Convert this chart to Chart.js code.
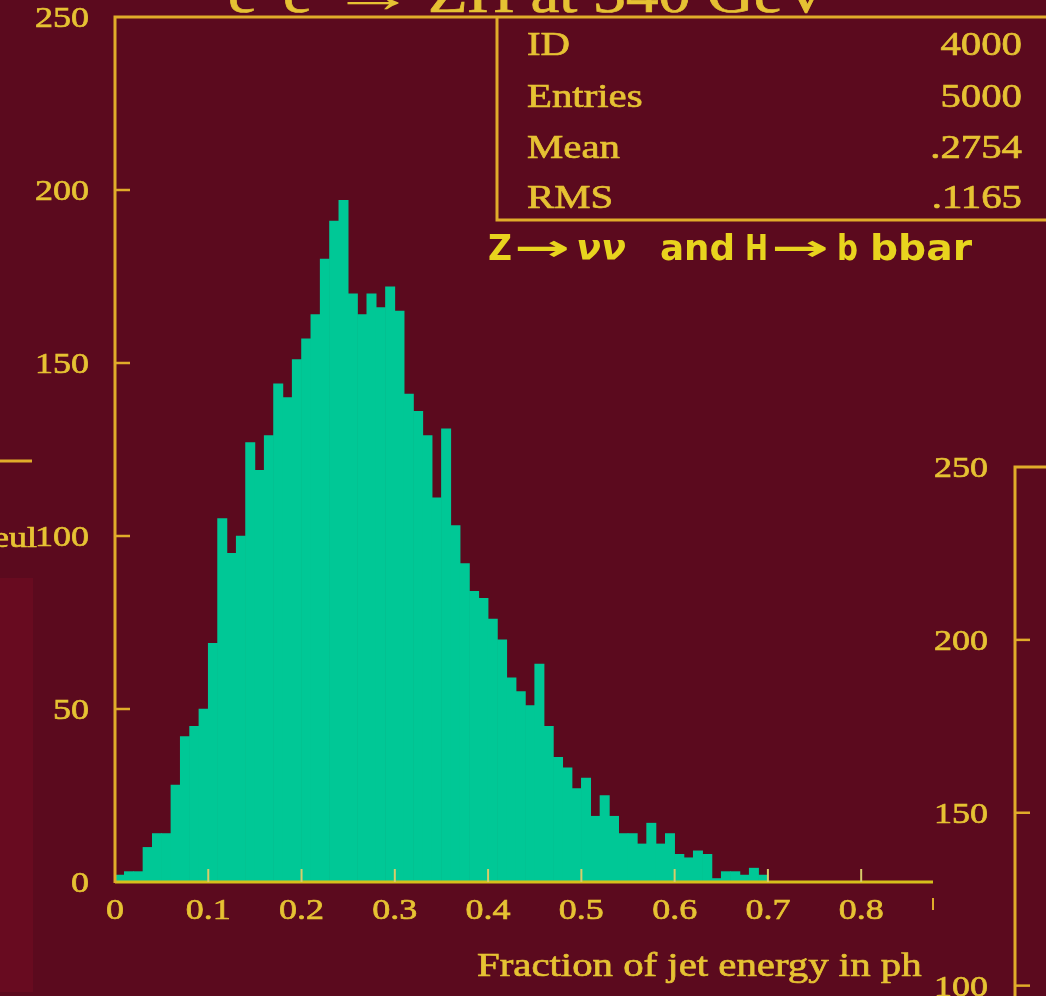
<!DOCTYPE html>
<html>
<head>
  <title>Fraction of jet energy in photons</title>
  <script src="https://cdn.jsdelivr.net/npm/chart.js"></script>
  <style>
    body { margin: 0; background: #5b0a1e; overflow: hidden; }
    #wrap { position: relative; width: 1046px; height: 996px; }
    canvas { position: absolute; left: 0; top: 0; }
  </style>
</head>
<body>
<div id="wrap">
  <canvas id="jetChart" width="1046" height="996"></canvas>
  <canvas id="nextChart" width="1046" height="996"></canvas>
</div>
<script>
// histogram 4000 : e+e- -> ZH, Z -> nu nu, H -> b bbar
const binWidth = 0.01;
const counts = [2, 3, 3, 10, 14, 14, 28, 42, 45, 50,
                69, 105, 95, 100, 127, 119, 129, 144, 140, 151,
                157, 164, 180, 191, 197, 170, 164, 170, 166, 172,
                165, 141, 136, 129, 111, 131, 103, 92, 84, 82,
                76, 70, 59, 55, 51, 63, 45, 36, 33, 27,
                30, 19, 25, 19, 14, 14, 11, 17, 11, 14,
                8, 7, 9, 8, 1, 3, 3, 2, 4, 2];
const xTicks = [0, 0.1, 0.2, 0.3, 0.4, 0.5, 0.6, 0.7, 0.8];
const yTicks = [0, 50, 100, 150, 200, 250];
const nextTicks = [100, 150, 200, 250];
const statNames = ['ID', 'Entries', 'Mean', 'RMS'];
const statValues = ['4000', '5000', '.2754', '.1165'];

const GOLD = '#e0ac2a';
const TEXT = '#e6c233';
const SERIF = '"Liberation Serif"';
const STRETCH = 1.2;

// serif text, a bit wider and heavier than the font draws it
function wideText(ctx, txt, x, y, size, align, k) {
  ctx.save();
  ctx.font = size + 'px ' + SERIF;
  ctx.fillStyle = TEXT;
  ctx.strokeStyle = TEXT;
  ctx.lineWidth = 0.7;
  ctx.textAlign = align || 'left';
  ctx.textBaseline = 'alphabetic';
  ctx.translate(x, y);
  ctx.scale(k || STRETCH, 1);
  ctx.fillText(txt, 0, 0);
  ctx.strokeText(txt, 0, 0);
  ctx.restore();
}

// text squeezed/stretched to a given width
function fitText(ctx, txt, x, y, font, width, color) {
  ctx.save();
  ctx.font = font;
  ctx.fillStyle = color;
  ctx.textAlign = 'left';
  ctx.textBaseline = 'alphabetic';
  const w = ctx.measureText(txt).width;
  ctx.translate(x, y);
  ctx.scale(width / w, 1);
  ctx.fillText(txt, 0, 0);
  ctx.restore();
}

function line(ctx, x1, y1, x2, y2, color, w) {
  ctx.strokeStyle = color;
  ctx.lineWidth = w;
  ctx.beginPath();
  ctx.moveTo(x1, y1);
  ctx.lineTo(x2, y2);
  ctx.stroke();
}

const histFrame = {
  id: 'histFrame',
  beforeDraw(chart) {
    const ctx = chart.ctx;
    // edge of the panel on the left
    ctx.fillStyle = '#680b20';
    ctx.fillRect(0, 578, 33, 414);
    line(ctx, 0, 461, 32, 461, GOLD, 3);
    wideText(ctx, 'eul', 37, 547, 30, 'right');
  },
  afterDraw(chart) {
    const { ctx, chartArea: a, scales: { x, y } } = chart;
    ctx.save();

    // axes and frame
    line(ctx, a.left, a.bottom, a.right, a.bottom, '#d6c01c', 3);
    ctx.strokeStyle = GOLD;
    ctx.lineWidth = 3;
    ctx.beginPath();
    ctx.moveTo(a.left, a.bottom + 1);
    ctx.lineTo(a.left, a.top);
    ctx.lineTo(1050, a.top);
    ctx.stroke();
    line(ctx, a.right, a.bottom + 16, a.right, a.bottom + 28, GOLD, 2);

    // inward tick marks
    yTicks.forEach(v => {
      const py = y.getPixelForValue(v);
      if (v > 0 && v < 250) line(ctx, a.left, py, a.left + 15, py, GOLD, 2.5);
      wideText(ctx, String(v), 89, py + 10, 30, 'right');
    });
    xTicks.forEach(v => {
      const px = x.getPixelForValue(v);
      if (v > 0) line(ctx, px, a.bottom, px, a.bottom - 13, '#d8cc6a', 2);
      wideText(ctx, String(v), px, a.bottom + 37, 30, 'center');
    });

    wideText(ctx, 'Fraction of jet energy in ph', 477, 976, 34, 'left');

    // statistics box
    ctx.strokeStyle = GOLD;
    ctx.lineWidth = 3;
    ctx.beginPath();
    ctx.moveTo(497, a.top);
    ctx.lineTo(497, 220);
    ctx.lineTo(1050, 220);
    ctx.stroke();
    const rows = [55, 107, 158, 208];
    statNames.forEach((n, i) => {
      wideText(ctx, n, 527, rows[i], 34, 'left');
      wideText(ctx, statValues[i], 1022, rows[i], 34, 'right');
    });

    // title, clipped by the top edge
    wideText(ctx, 'e', 228, 12, 54, 'left');
    wideText(ctx, '+', 258, -14, 36, 'left');
    wideText(ctx, 'e', 283, 12, 54, 'left');
    wideText(ctx, '\u2212', 313, -14, 36, 'left');
    fitText(ctx, '\u2192', 330, 12, '54px ' + SERIF, 86, TEXT);
    wideText(ctx, 'ZH at 340 GeV', 428, 12, 54, 'left');

    // decay channel
    const sub = '#e8d41e';
    const bold = 'bold 36px "DejaVu Sans"';
    fitText(ctx, 'Z', 488, 260, bold, 24, sub);
    fitText(ctx, '\u2192', 514, 260, bold, 56, sub);
    fitText(ctx, '\u03bd\u03bd', 576, 260, 'italic bold 36px "DejaVu Sans"', 50, sub);
    fitText(ctx, 'and', 660, 260, bold, 75, sub);
    fitText(ctx, 'H', 745, 260, bold, 23, sub);
    fitText(ctx, '\u2192', 771, 260, bold, 58, sub);
    fitText(ctx, 'b', 837, 260, bold, 21, sub);
    fitText(ctx, 'bbar', 870, 260, bold, 102, sub);

    ctx.restore();
  }
};

new Chart(document.getElementById('jetChart'), {
  type: 'bar',
  data: {
    datasets: [{
      label: 'jets',
      data: counts.map((c, i) => ({ x: (i + 0.5) * binWidth, y: c })),
      backgroundColor: '#00c896',
      borderWidth: 0,
      barPercentage: 1,
      categoryPercentage: 1
    }]
  },
  options: {
    responsive: false,
    animation: false,
    events: [],
    devicePixelRatio: 1,
    layout: { padding: { left: 115, right: 113, top: 17, bottom: 114 } },
    plugins: { legend: { display: false }, tooltip: { enabled: false } },
    scales: {
      x: { type: 'linear', display: false, offset: false, min: 0, max: 0.877 },
      y: { display: false, min: 0, max: 250 }
    }
  },
  plugins: [histFrame]
});

// axis of the next histogram on the slide
const nextFrame = {
  id: 'nextFrame',
  afterDraw(chart) {
    const { ctx, chartArea: a, scales: { y } } = chart;
    ctx.save();
    ctx.strokeStyle = GOLD;
    ctx.lineWidth = 3;
    ctx.beginPath();
    ctx.moveTo(a.left, 1000);
    ctx.lineTo(a.left, a.top);
    ctx.lineTo(1050, a.top);
    ctx.stroke();
    nextTicks.forEach(v => {
      const py = y.getPixelForValue(v);
      if (v < 250) line(ctx, a.left, py, a.left + 15, py, GOLD, 2.5);
      wideText(ctx, String(v), 988, py + 10, 30, 'right');
    });
    ctx.restore();
  }
};

new Chart(document.getElementById('nextChart'), {
  type: 'bar',
  data: { labels: [], datasets: [{ data: [] }] },
  options: {
    responsive: false,
    animation: false,
    events: [],
    devicePixelRatio: 1,
    layout: { padding: { left: 1015, right: 0, top: 467, bottom: 0 } },
    plugins: { legend: { display: false }, tooltip: { enabled: false } },
    scales: {
      x: { display: false },
      y: { display: false, min: 97, max: 250 }
    }
  },
  plugins: [nextFrame]
});
</script>
</body>
</html>
